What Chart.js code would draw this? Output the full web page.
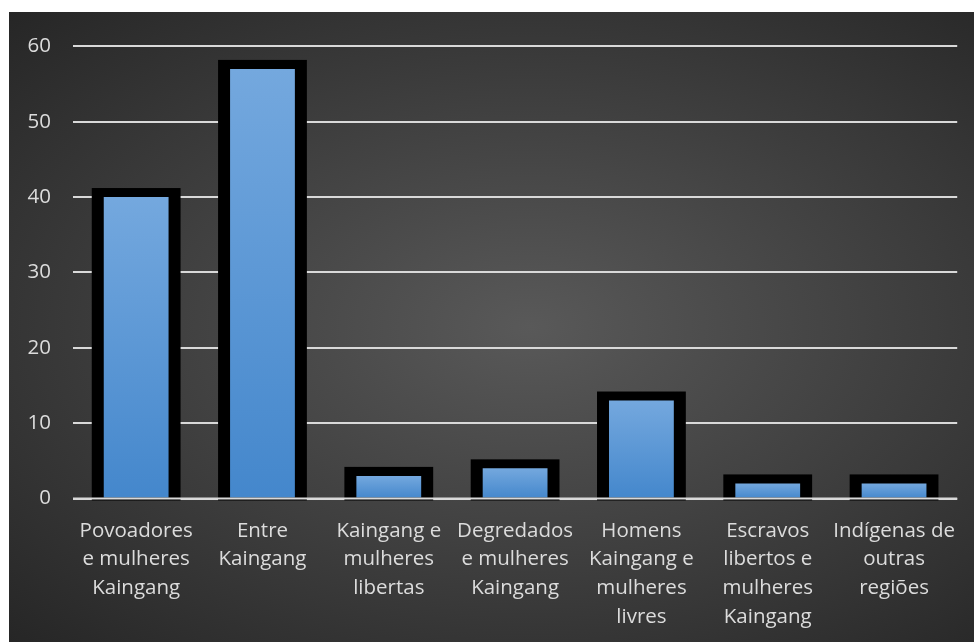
<!DOCTYPE html>
<html>
<head>
<meta charset="utf-8">
<script src="https://cdn.jsdelivr.net/npm/chart.js@4"></script>
<style>
  html, body { margin: 0; padding: 0; background: #ffffff; }
  body { width: 974px; height: 642px; position: relative; overflow: hidden; }
  #wrap {
    position: absolute; left: 9px; top: 12px; width: 965px; height: 630px;
    background: radial-gradient(ellipse farthest-corner at 54% 50%, #595959 0%, #3d3d3d 55%, #262626 100%);
  }
  canvas { display: block; }
</style>
</head>
<body>
<div id="wrap"><canvas id="c" width="965" height="630"></canvas></div>
<script>
const categories = [
  ['Povoadores', 'e mulheres', 'Kaingang'],
  ['Entre', 'Kaingang'],
  ['Kaingang e', 'mulheres', 'libertas'],
  ['Degredados', 'e mulheres', 'Kaingang'],
  ['Homens', 'Kaingang e', 'mulheres', 'livres'],
  ['Escravos', 'libertos e', 'mulheres', 'Kaingang'],
  ['Indígenas de', 'outras', 'regiões']
];
const values = [40, 57, 3, 4, 13, 2, 2];
const yTicks = [0, 10, 20, 30, 40, 50, 60];

const textColor = '#dcdcdc';
const gridColor = '#d9d9d9';

const outlinePlugin = {
  id: 'outline',
  beforeDatasetsDraw(chart) {
    const ctx = chart.ctx;
    const meta = chart.getDatasetMeta(0);
    ctx.save();
    ctx.fillStyle = '#000000';
    meta.data.forEach(bar => {
      const p = bar.getProps(['x', 'y', 'base', 'width'], true);
      ctx.fillRect(p.x - p.width / 2 - 12, p.y - 9, p.width + 24, p.base - p.y + 12);
    });
    ctx.restore();
  },
  afterDatasetsDraw(chart) {
    const ctx = chart.ctx;
    const ys = chart.scales.y;
    const y0 = ys.getPixelForValue(0);
    ctx.save();
    ctx.strokeStyle = gridColor;
    ctx.lineWidth = 2;
    ctx.beginPath();
    ctx.moveTo(chart.chartArea.left, y0);
    ctx.lineTo(chart.chartArea.right, y0);
    ctx.stroke();
    ctx.restore();
  }
};

new Chart(document.getElementById('c'), {
  type: 'bar',
  data: {
    labels: categories,
    datasets: [{
      data: values,
      borderWidth: 0,
      barPercentage: 0.513,
      categoryPercentage: 1,
      backgroundColor: (c) => {
        const chart = c.chart;
        if (!chart.chartArea || c.type !== 'data') return '#5b97d5';
        const ys = chart.scales.y;
        const top = ys.getPixelForValue(c.parsed.y);
        const bot = ys.getPixelForValue(0);
        const g = chart.ctx.createLinearGradient(0, top, 0, bot);
        g.addColorStop(0, '#74a8de');
        g.addColorStop(1, '#4487cc');
        return g;
      }
    }]
  },
  options: {
    responsive: false,
    animation: false,
    events: [],
    layout: { padding: { top: 30, right: 15, bottom: 0, left: 0 } },
    plugins: { legend: { display: false }, tooltip: { enabled: false } },
    scales: {
      x: {
        grid: { display: false, drawTicks: false },
        border: { display: false },
        ticks: {
          color: textColor,
          font: { family: '"Open Sans", sans-serif', size: 20.5, lineHeight: 1.4 },
          padding: 18,
          maxRotation: 0,
          autoSkip: false
        },
        afterFit(scale) { scale.height = 143.5; }
      },
      y: {
        min: 0,
        max: 60,
        afterBuildTicks(scale) { scale.ticks = yTicks.map(v => ({ value: v })); },
        grid: { color: gridColor, lineWidth: 2, drawTicks: false },
        border: { display: false },
        ticks: {
          color: textColor,
          font: { family: '"Open Sans", sans-serif', size: 20.5 },
          padding: 22
        },
        afterFit(scale) { scale.width = 64; }
      }
    }
  },
  plugins: [outlinePlugin]
});
</script>
</body>
</html>
